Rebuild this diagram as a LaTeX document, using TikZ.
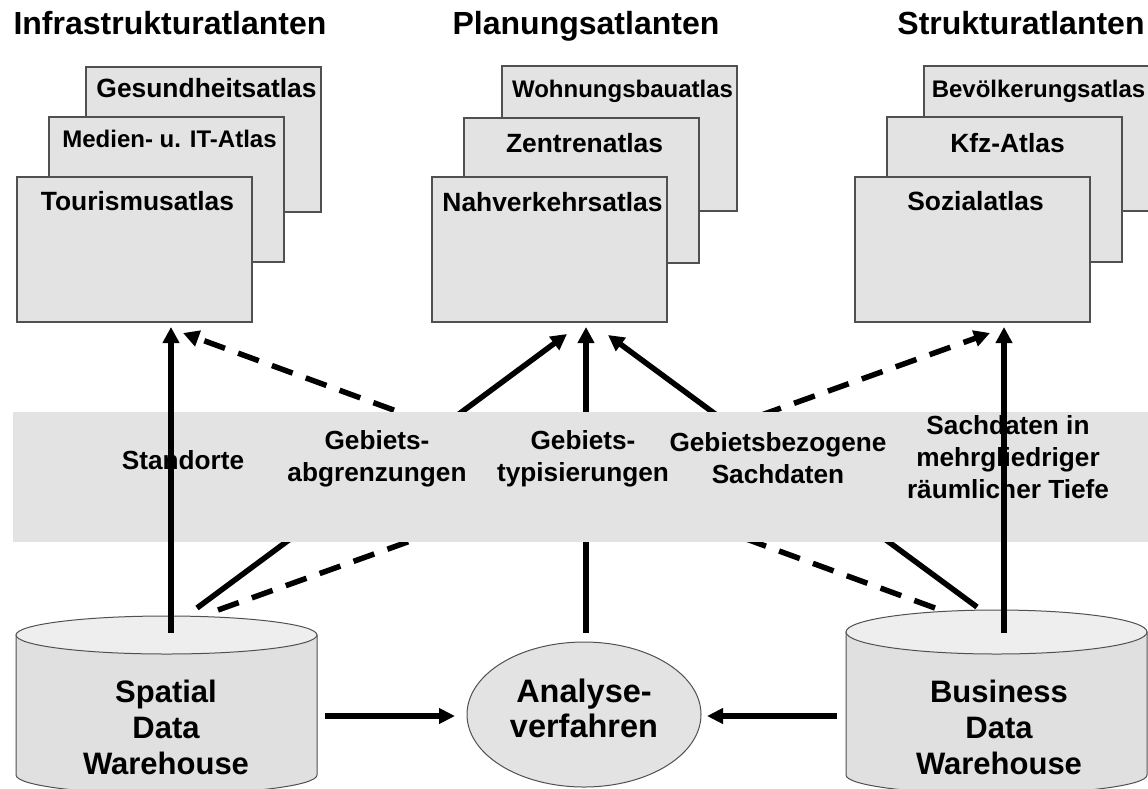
\documentclass[tikz,border=0pt]{standalone}
\usepackage{fontspec}
\setmainfont{Liberation Sans}
\usetikzlibrary{arrows.meta,shapes.geometric}
\definecolor{boxfill}{HTML}{E3E3E3}
\definecolor{boxline}{HTML}{505050}
\definecolor{bandfill}{HTML}{E3E3E3}
\definecolor{topfill}{HTML}{EEEEEE}
\definecolor{bodyfill}{HTML}{E0E0E0}
\begin{document}
\begin{tikzpicture}[x=1pt,y=-1pt,
  atlasbox/.style={draw=boxline, line width=1.3pt, fill=boxfill, minimum width=235pt, minimum height=145pt, anchor=north west, inner sep=0pt, outer sep=0pt},
  atlaslbl/.style={anchor=base, font=\bfseries\fontsize{26.4}{30}\selectfont, inner sep=0pt},
  smalllbl/.style={anchor=base, font=\bfseries\fontsize{24}{28}\selectfont, inner sep=0pt},
  titlelbl/.style={anchor=base, font=\bfseries\fontsize{32}{36}\selectfont, inner sep=0pt},
  bandlbl/.style={font=\bfseries\fontsize{26.2}{32}\selectfont, align=center, inner sep=0pt},
  dwlbl/.style={font=\bfseries\fontsize{31}{36}\selectfont, align=center, inner sep=0pt},
  anlbl/.style={font=\bfseries\fontsize{32.5}{35}\selectfont, align=center, inner sep=0pt},
  conn/.style={line width=5.5pt, -{Triangle[length=16pt,width=16pt]}},
  dashconn/.style={line width=5.5pt, dash pattern=on 22pt off 14pt, -{Triangle[length=16pt,width=16pt]}},
  hconn/.style={line width=6pt, -{Triangle[length=16pt,width=15pt]}},
  cylline/.style={draw=boxline, line width=1pt},
]
\useasboundingbox (0,0) rectangle (1148,788);
\clip (0,0) rectangle (1148,788);

% ---------- atlas stacks ----------
\node[atlasbox] (gesund) at (86,67) {};
\node[atlasbox] (medien) at (49,117) {};
\node[atlasbox] (tour) at (17,177) {};
\node[atlasbox] (wohn) at (502,66) {};
\node[atlasbox] (zentren) at (464,118) {};
\node[atlasbox] (nahv) at (432,177) {};
\node[atlasbox] (bevoelk) at (924,66) {};
\node[atlasbox] (kfz) at (887,117) {};
\node[atlasbox] (sozial) at (855,177) {};

\node[atlaslbl] (lgesund) at ([xshift=3pt,yshift=-30pt]gesund.north) {Gesundheitsatlas};
\node[smalllbl] (lmedien) at ([xshift=3pt,yshift=-30pt]medien.north) {Medien- u. IT-Atlas};
\node[atlaslbl] (ltour) at ([xshift=3pt,yshift=-33pt]tour.north) {Tourismusatlas};
\node[smalllbl] (lwohn) at ([xshift=3pt,yshift=-31pt]wohn.north) {Wohnungsbauatlas};
\node[atlaslbl] (lzentren) at ([xshift=3pt,yshift=-34pt]zentren.north) {Zentrenatlas};
\node[atlaslbl] (lnahv) at ([xshift=3pt,yshift=-34pt]nahv.north) {Nahverkehrsatlas};
\node[smalllbl] (lbevoelk) at ([xshift=-3pt,yshift=-31pt]bevoelk.north) {Bevölkerungsatlas};
\node[atlaslbl] (lkfz) at ([xshift=3pt,yshift=-35pt]kfz.north) {Kfz-Atlas};
\node[atlaslbl] (lsozial) at ([xshift=3pt,yshift=-33pt]sozial.north) {Sozialatlas};

% ---------- titles ----------
\node[titlelbl] (tinfra) at (170,34) {Infrastrukturatlanten};
\node[titlelbl] (tplan) at (586,34) {Planungsatlanten};
\node[titlelbl] (tstrukt) at (1021,34) {Strukturatlanten};

% ---------- connector end points ----------
\coordinate (sdwV) at (171,633);
\coordinate (sdwS) at (197,608);
\coordinate (sdwD) at (218,610);
\coordinate (anV) at (586,633);
\coordinate (bdwD) at (935,608);
\coordinate (bdwS) at (977,607);
\coordinate (bdwV) at (1004,633);
\coordinate (infraV) at (171,327);
\coordinate (infraD) at (183,333);
\coordinate (planS) at (567,334);
\coordinate (planV) at (586,327);
\coordinate (planB) at (608,335);
\coordinate (struktD) at (990,333);
\coordinate (struktV) at (1004,327);

% ---------- lines hidden by the band ----------
\draw[conn] (sdwS) -- (planS);
\draw[conn] (bdwS) -- (planB);
\draw[dashconn] (sdwD) -- (struktD);
\draw[dashconn] (bdwD) -- (infraD);
\draw[conn] (anV) -- (planV);

% ---------- band ----------
\fill[bandfill] (13,412) rectangle (1148,542);
\node[bandlbl] (bstand) at (183,460) {Standorte};
\node[bandlbl] (babgr) at (377,459) {Gebiets-\\abgrenzungen};
\node[bandlbl] (btyp) at (583,459) {Gebiets-\\typisierungen};
\node[bandlbl] (bsach) at (778,458) {Gebietsbezogene\\Sachdaten};
\node[bandlbl] (btief) at (1008,457) {Sachdaten in\\mehrgliedriger\\räumlicher Tiefe};

% ---------- Spatial Data Warehouse ----------
\path[fill=bodyfill, cylline] (16,635) -- (16,775) arc[start angle=180, end angle=0, x radius=150.5, y radius=19] -- (317,635) -- cycle;
\path[fill=topfill, cylline] (166.5,635) ellipse[x radius=150.5, y radius=19];
\node[dwlbl] (sdw) at (166,727) {Spatial\\Data\\Warehouse};

% ---------- Business Data Warehouse ----------
\path[fill=bodyfill, cylline] (846,632) -- (846,775) arc[start angle=180, end angle=0, x radius=150.5, y radius=19] -- (1147,632) -- cycle;
\path[fill=topfill, cylline] (996.5,632) ellipse[x radius=150.5, y radius=22];
\node[dwlbl] (bdw) at (999,727) {Business\\Data\\Warehouse};

% ---------- Analyseverfahren ----------
\node[draw=boxline, line width=1pt, fill=boxfill, ellipse, minimum width=234pt, minimum height=145pt, inner sep=0pt] (anell) at (584,714.5) {};
\node[anlbl] (an) at (584,708) {Analyse-\\verfahren};

% ---------- horizontal arrows ----------
\coordinate (sdwR) at (325,716);
\coordinate (anL) at (455,716);
\coordinate (bdwL) at (837,716);
\coordinate (anR) at (707,716);
\draw[hconn] (sdwR) -- (anL);
\draw[hconn] (bdwL) -- (anR);

% ---------- vertical arrows over the band ----------
\draw[conn] (sdwV) -- (infraV);
\draw[conn] (bdwV) -- (struktV);
\end{tikzpicture}
\end{document}
